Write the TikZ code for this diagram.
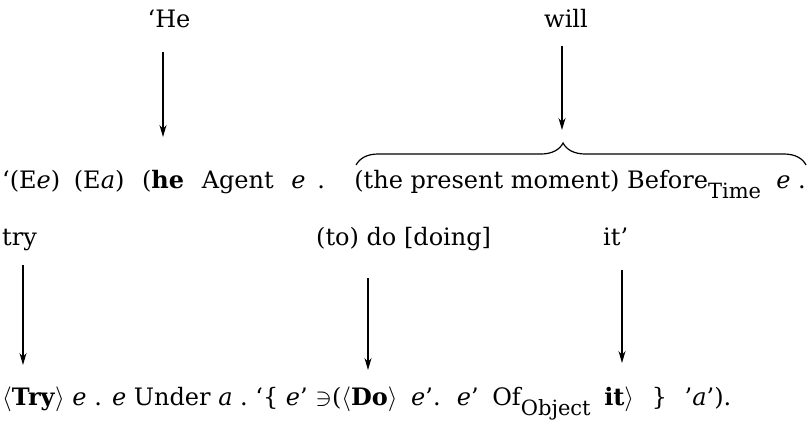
\documentclass[tikz,border=0pt]{standalone}
\usepackage{fontspec}
\setmainfont{DejaVu Serif}
\usetikzlibrary{arrows.meta,decorations.pathreplacing}
\newcommand{\lowsub}[1]{\raisebox{-10pt}{\fontsize{21}{24}\selectfont #1}}
\newcommand{\gp}[1]{\hspace{#1pt}}
\begin{document}
\begin{tikzpicture}[x=1pt,y=-1pt,
  txt/.style={anchor=base west,inner sep=0pt,font=\fontsize{24}{28}\selectfont},
  arr/.style={line width=1.3pt,-{Stealth[length=12pt,width=7pt]}},
  brc/.style={line width=1.2pt,decorate,decoration={brace,amplitude=22pt,aspect=0.46}}]
\useasboundingbox (0,0) rectangle (808,425);
% top words
\node[txt,anchor=base] (he) at (169,28) {`He};
\node[txt,anchor=base] (will) at (566,28) {will};
% row 2
\node[txt] (r2a) at (2,188) {`(E\textit{e})\gp{6} (E\textit{a})\gp{10} (\textbf{he}\gp{10} Agent\gp{10} \textit{e}\gp{4} .};
\node[txt,anchor=base east] (r2b) at (806,188) {(the present moment) Before\lowsub{Time}\ \ \textit{e} .};
% row 3
\node[txt] (try) at (2,245) {try};
\node[txt] (todo) at (316,245) {(to) do [doing]};
\node[txt] (it) at (603,245) {it'};
% row 4
\node[txt] (r4) at (2,405) {$\langle$\textbf{Try}$\rangle$ \textit{e} . \textit{e}\ Under \textit{a} .\ `\{ \textit{e}' $\ni$($\langle$\textbf{Do}$\rangle$\gp{6} \textit{e}'.\gp{6} \textit{e}'\gp{6} Of\lowsub{Object}\gp{6} \textbf{it}$\rangle$\gp{10} \}\gp{10} '\textit{a}').};
% arrow coordinates
\coordinate (a1s) at (163,52);  \coordinate (a1e) at (163,137);
\coordinate (a2s) at (562,46);  \coordinate (a2e) at (562,130);
\coordinate (a3s) at (23,265);  \coordinate (a3e) at (23,365);
\coordinate (a4s) at (368,278); \coordinate (a4e) at (368,370);
\coordinate (a5s) at (622,270); \coordinate (a5e) at (622,363);
\draw[arr] (a1s) -- (a1e);
\draw[arr] (a2s) -- (a2e);
\draw[arr] (a3s) -- (a3e);
\draw[arr] (a4s) -- (a4e);
\draw[arr] (a5s) -- (a5e);
% brace over the second half of row 2
\coordinate (bl) at ([xshift=2pt,yshift=23pt]r2b.base west);
\coordinate (br) at ([yshift=23pt]r2b.base east);
\draw[brc] (bl) -- (br);
\end{tikzpicture}
\end{document}
